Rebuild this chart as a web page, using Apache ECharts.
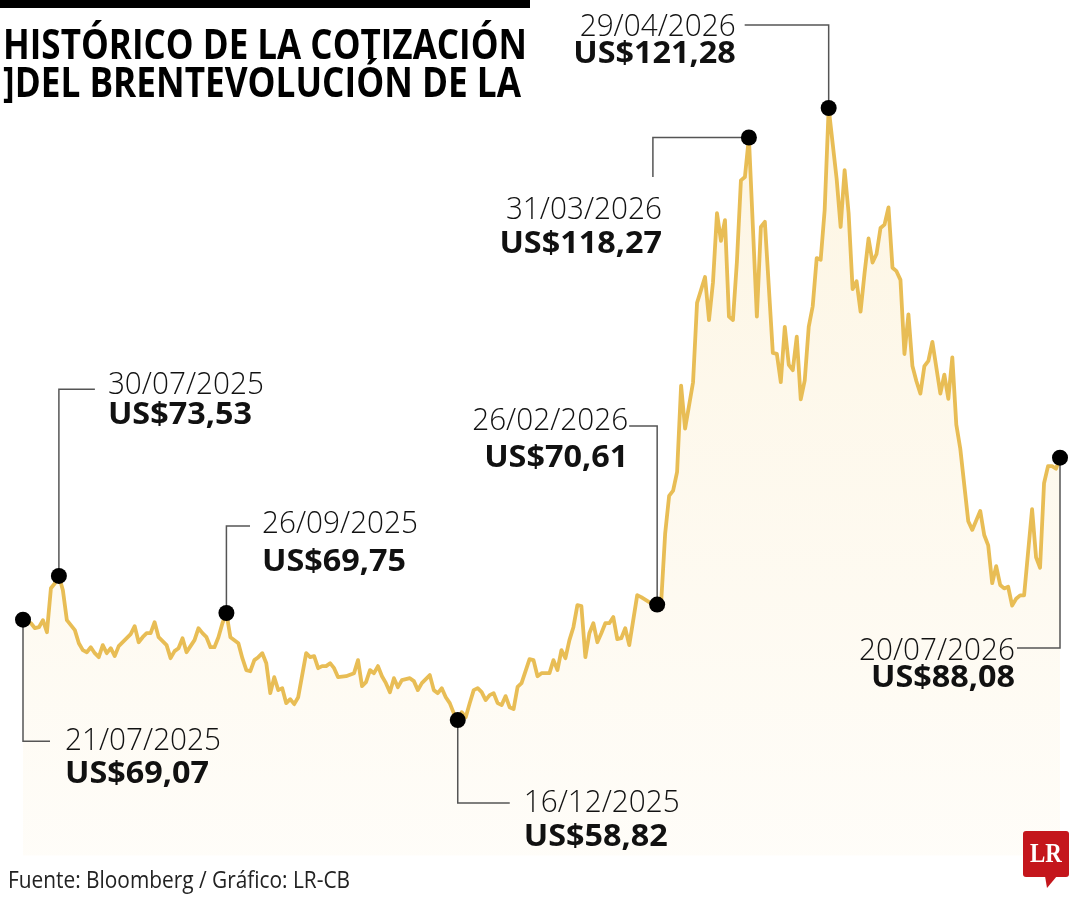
<!DOCTYPE html>
<html><head><meta charset="utf-8">
<script src="https://cdn.jsdelivr.net/npm/echarts@6/dist/echarts.min.js"></script>
<style>html,body{margin:0;padding:0;background:#fff}#c{width:1080px;height:900px}</style>
</head><body><div id="c"></div>
<script>
// ---- DATA ----
// trading-day index (0 = 21/07/2025)
const days = [0,2,3,4,5,6,7,8,9,10,11,13,14,15,16,17,18,19,20,21,22,23,24,26,27,28,29,30,31,32,33,34,36,37,38,39,40,41,42,43,44,45,46,47,48,49,50,51,52,54,55,56,57,58,59,60,61,62,63,64,65,66,67,68,69,71,72,73,74,75,76,77,78,79,81,83,84,85,86,87,88,89,90,91,92,93,94,95,97,98,99,100,102,103,104,105,106,107,108,109,110,111,112,113,114,115,116,117,118,119,120,121,122,123,124,125,127,128,129,130,132,133,134,135,136,137,138,139,140,141,142,143,144,145,146,147,148,149,150,151,152,154,155,157,159,160,161,162,163,164,165,166,168,169,171,172,173,174,175,176,177,178,179,180,181,182,184,185,186,188,189,190,191,192,193,194,195,196,197,198,199,200,201,202,204,205,206,207,208,209,210,211,212,213,214,215,216,217,218,219,220,221,222,223,224,225,226,227,228,230,231,232,233,234,235,237,238,240,241,242,243,244,245,246,247,248,249,250,251,253,254,255,256,257,258,259,260];
// Brent, US$ per barrel
const prices = [69.07,68.71,68.20,68.30,69.02,67.79,72.28,72.79,73.53,72.08,69.02,68.00,66.67,65.96,65.75,66.26,65.65,65.24,66.47,65.65,66.16,65.35,66.37,67.18,67.59,68.41,66.77,67.28,67.69,67.69,68.81,67.28,66.47,65.14,65.86,66.16,67.18,65.75,66.37,66.98,68.20,67.69,67.28,66.26,66.26,67.28,68.71,69.75,67.28,66.67,65.14,63.92,63.81,64.94,65.24,65.65,64.63,61.57,63.20,61.88,62.08,60.55,60.96,60.45,61.16,65.65,65.24,65.35,64.12,64.33,64.33,64.63,64.12,63.20,63.30,63.61,64.94,62.29,62.69,63.92,63.61,64.33,63.30,62.59,61.67,63.10,62.18,62.90,63.10,62.80,61.88,62.59,63.41,61.88,61.57,62.08,61.16,60.55,59.53,58.82,59.63,59.12,60.55,61.88,62.08,61.67,60.86,61.37,61.57,60.55,60.35,61.27,60.14,59.94,62.20,62.59,65.04,64.94,63.30,63.61,63.61,64.94,63.92,65.96,65.14,66.98,68.30,70.55,70.45,65.24,67.69,68.71,66.77,67.69,68.71,68.71,69.33,67.08,67.18,68.20,66.47,71.57,71.37,70.86,70.61,70.80,77.83,81.70,82.23,84.16,92.96,88.56,93.30,101.39,104.03,99.64,103.51,110.55,107.72,109.84,99.99,99.64,105.63,113.89,114.24,118.27,99.99,109.14,109.67,96.30,96.20,93.30,98.94,95.07,94.53,97.95,91.55,93.49,98.94,101.05,105.97,105.80,110.89,121.28,114.05,109.14,114.94,110.55,102.80,103.60,100.50,104.45,107.97,105.51,106.39,109.03,109.38,111.14,104.98,104.63,103.74,96.18,100.23,94.95,93.40,92.14,94.95,95.48,97.42,92.14,94.07,91.61,95.84,88.97,86.51,79.12,78.23,80.17,77.71,76.65,72.79,74.54,72.61,72.26,72.43,70.50,71.20,71.55,71.55,80.35,75.43,74.37,82.99,84.74,84.74,84.47,85.60];
// annotated points
const annotDays = [0, 9, 51, 109, 159, 182, 202, 260];
const annotDates = ['21/07/2025','30/07/2025','26/09/2025','16/12/2025','26/02/2026','31/03/2026','29/04/2026','20/07/2026'];
const annotPrices = ['US$69,07','US$73,53','US$69,75','US$58,82','US$70,61','US$118,27','US$121,28','US$88,08'];
const titleLines = ['HISTÓRICO DE LA COTIZACIÓN', ']DEL BRENTEVOLUCIÓN DE LA'];
const sourceText = 'Fuente: Bloomberg / Gráfico: LR-CB';

// ---- LAYOUT (offsets relative to each annotated dot) ----
const annotLayout = [
  {path:[[0,0],[0,121.5],[27,121.5]], tx:42, ty:[121.5,154.5], align:'left'},
  {path:[[0,0],[0,-186.8],[36,-186.8]], tx:49, ty:[-191.3,-160.8], align:'left'},
  {path:[[0,0],[0,-86.9],[23.6,-86.9]], tx:35.6, ty:[-88.9,-50.9], align:'left'},
  {path:[[0,0],[0,83],[52,83]], tx:66, ty:[83,117], align:'left'},
  {path:[[0,0],[0,-178.5],[-28,-178.5]], tx:-29, ty:[-184,-146], align:'right'},
  {path:[[0,0],[-96,0],[-96,39.5]], tx:-87, ty:[72.5,106.5], align:'right'},
  {path:[[0,0],[0,-83],[-84,-83]], tx:-93, ty:[-81.5,-54], align:'right'},
  {path:[[0,0],[0,190.4],[-43,190.4]], tx:-45, ty:[193.4,220.4], align:'right'}
];

const FONT = '"Open Sans", "Noto Sans", sans-serif';
const ctx = document.createElement('canvas').getContext('2d');
function measure(text, font){ ctx.font = font; return ctx.measureText(text).width; }

const chart = echarts.init(document.getElementById('c'));
const lineData = days.map((d, i) => [d, prices[i]]);
const dotData = annotDays.map(d => [d, prices[days.indexOf(d)]]);

chart.setOption({
  animation: false,
  backgroundColor: '#ffffff',
  grid: {left: 23, right: 20, top: 71.55, bottom: 44.45},
  xAxis: {type: 'value', min: 0, max: 260, show: false},
  yAxis: {type: 'value', min: 45, max: 125, show: false},
  series: [
    {
      type: 'line', data: lineData, symbol: 'none', z: 3, clip: false,
      lineStyle: {color: '#E8BD55', width: 3.8, join: 'round'},
      areaStyle: {
        origin: 'start',
        color: new echarts.graphic.LinearGradient(0, 0, 0, 1, [
          {offset: 0, color: 'rgba(248,222,160,0.42)'},
          {offset: 1, color: 'rgba(248,222,160,0.10)'}
        ])
      }
    },
    {type: 'scatter', data: dotData, symbolSize: 16, clip: false, itemStyle: {color: '#000', opacity: 1}, z: 5, silent: true}
  ]
});

const dateFont = '300 32px ' + FONT;
const valFont = '700 31px ' + FONT;
const dateScale = 156 / measure(annotDates[1], dateFont);
const valScale = 144 / measure(annotPrices[1], valFont);

const g = [];
// top black bar
g.push({type: 'rect', shape: {x: 0, y: 0, width: 530, height: 8}, style: {fill: '#000'}, z: 10});
// title
const titleFont = '700 42px ' + FONT;
const titleTargets = [524, 518];
const titleY = [47.5, 85];
titleLines.forEach((t, i) => {
  g.push({type: 'text', x: 3, y: titleY[i], scaleX: titleTargets[i] / measure(t, titleFont), z: 10,
    style: {text: t, x: 0, y: 0, font: titleFont, fill: '#000', align: 'left', verticalAlign: 'middle'}});
});
// source
const srcFont = '400 24px ' + FONT;
g.push({type: 'text', x: 8, y: 881, scaleX: 342 / measure(sourceText, srcFont), z: 10,
  style: {text: sourceText, x: 0, y: 0, font: srcFont, fill: '#222', align: 'left', verticalAlign: 'middle'}});
// logo
g.push({type: 'rect', shape: {x: 1023, y: 831, width: 46, height: 46, r: 3}, style: {fill: '#C4161C'}, z: 10});
g.push({type: 'polygon', shape: {points: [[1045, 876], [1057, 876], [1047, 888]]}, style: {fill: '#C4161C'}, z: 10});
g.push({type: 'text', x: 1046, y: 855, scaleX: 0.85, z: 11,
  style: {text: 'LR', x: 0, y: 0, font: '700 27px "Liberation Serif", "DejaVu Serif", serif', fill: '#fff', align: 'center', verticalAlign: 'middle'}});

// annotations
annotDays.forEach((d, i) => {
  const p = chart.convertToPixel({seriesIndex: 1}, dotData[i]);
  const L = annotLayout[i];
  g.push({type: 'polyline', z: 4, shape: {points: L.path.map(q => [p[0] + q[0], p[1] + q[1]])},
    style: {stroke: '#555', lineWidth: 1.5, fill: null}});
  g.push({type: 'text', x: p[0] + L.tx, y: p[1] + L.ty[0], scaleX: dateScale, z: 10,
    style: {text: annotDates[i], x: 0, y: 0, font: dateFont, fill: '#111', align: L.align, verticalAlign: 'middle'}});
  g.push({type: 'text', x: p[0] + L.tx, y: p[1] + L.ty[1], scaleX: valScale, z: 10,
    style: {text: annotPrices[i], x: 0, y: 0, font: valFont, fill: '#111', align: L.align, verticalAlign: 'middle'}});
});

chart.setOption({graphic: {elements: g}});
</script>
</body></html>
